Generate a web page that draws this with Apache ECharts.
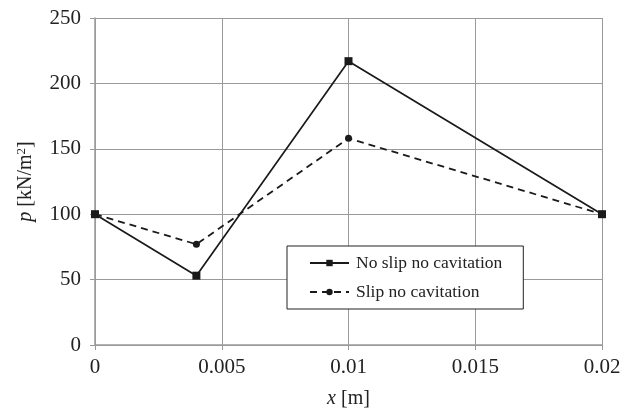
<!DOCTYPE html>
<html>
<head>
<meta charset="utf-8">
<script src="https://cdn.jsdelivr.net/npm/echarts@6/dist/echarts.min.js"></script>
<style>
  html, body { margin: 0; padding: 0; background: #fff; }
  #chart { width: 620px; height: 410px; }
</style>
</head>
<body>
<div id="chart"></div>
<script>
// data
const xValues = [0, 0.004, 0.01, 0.02];
const noSlip = [100, 53, 217, 100];
const slip = [100, 77, 158, 100];
const seriesNames = ['No slip no cavitation', 'Slip no cavitation'];

const toPairs = (xs, ys) => xs.map((x, i) => [x, ys[i]]);

const font = '"Liberation Serif", "DejaVu Serif", serif';
const gridGray = '#9a9a9a';

const chart = echarts.init(document.getElementById('chart'));
chart.setOption({
  animation: false,
  textStyle: { fontFamily: font },
  grid: { left: 95, right: 18, top: 18, bottom: 65, containLabel: false, outerBoundsMode: 'none' },
  xAxis: {
    type: 'value',
    min: 0,
    max: 0.02,
    interval: 0.005,
    name: '{i|x} [m]',
    nameLocation: 'middle',
    nameGap: 44,
    nameTextStyle: {
      fontFamily: font, fontSize: 20, color: '#222',
      rich: { i: { fontFamily: font, fontSize: 20, fontStyle: 'italic', color: '#222' } }
    },
    axisLine: { lineStyle: { color: gridGray, width: 1.5 } },
    axisTick: { show: true, length: 5, lineStyle: { color: gridGray } },
    axisLabel: { fontFamily: font, fontSize: 21, color: '#222', margin: 12 },
    splitLine: { show: true, lineStyle: { color: gridGray, width: 1 } }
  },
  yAxis: {
    type: 'value',
    min: 0,
    max: 250,
    interval: 50,
    name: '{i|p} [kN/m{s|2}]',
    nameLocation: 'middle',
    nameRotate: 90,
    nameGap: 58,
    nameTextStyle: {
      fontFamily: font, fontSize: 20, color: '#222',
      rich: {
        i: { fontFamily: font, fontSize: 20, fontStyle: 'italic', color: '#222' },
        s: { fontFamily: font, fontSize: 13, color: '#222', verticalAlign: 'top', padding: [0, 0, 9, 0] }
      }
    },
    axisLine: { show: true, lineStyle: { color: gridGray, width: 1.5 } },
    axisTick: { show: true, length: 5, lineStyle: { color: gridGray } },
    axisLabel: { fontFamily: font, fontSize: 21, color: '#222', margin: 14 },
    splitLine: { show: true, lineStyle: { color: gridGray, width: 1 } }
  },
  legend: {
    data: seriesNames,
    orient: 'vertical',
    left: 287,
    top: 246,
    padding: [8, 21, 8, 22],
    itemGap: 11,
    itemWidth: 39,
    itemHeight: 8,
    backgroundColor: '#fff',
    borderColor: '#222',
    borderWidth: 1,
    borderRadius: 0,
    textStyle: { fontFamily: font, fontSize: 17.5, color: '#222', padding: [0, 0, 0, 2] }
  },
  series: [
    {
      name: seriesNames[0],
      type: 'line',
      data: toPairs(xValues, noSlip),
      symbol: 'rect',
      symbolSize: 8,
      itemStyle: { color: '#1a1a1a' },
      lineStyle: { color: '#1a1a1a', width: 1.7 },
      z: 3
    },
    {
      name: seriesNames[1],
      type: 'line',
      data: toPairs(xValues, slip),
      symbol: 'circle',
      symbolSize: 7,
      itemStyle: { color: '#1a1a1a' },
      lineStyle: { color: '#1a1a1a', width: 1.8, type: [7, 5] },
      z: 2
    }
  ]
});
</script>
</body>
</html>
